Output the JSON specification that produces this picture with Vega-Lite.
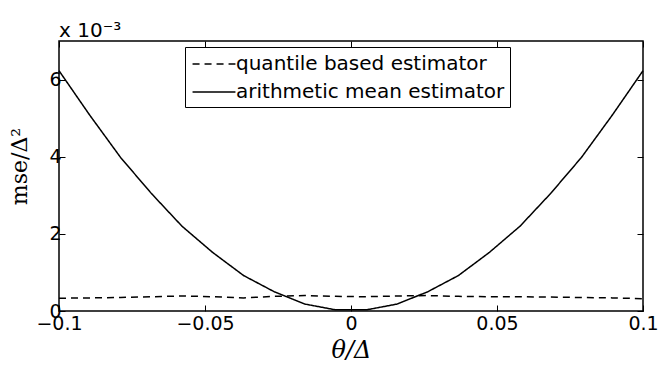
{
  "$schema": "https://vega.github.io/schema/vega-lite/v6.json",
  "width": 584,
  "height": 270,
  "autosize": {"type": "none"},
  "padding": {"left": 59, "top": 41, "right": 15, "bottom": 55},
  "background": "white",
  "config": {
    "view": {"stroke": "black", "strokeWidth": 1.5},
    "font": "DejaVu Sans",
    "axis": {
      "domain": false,
      "grid": false,
      "tickColor": "black",
      "tickWidth": 1,
      "tickSize": -6,
      "labelFlush": false,
      "labelFont": "DejaVu Sans",
      "labelFontSize": 19,
      "labelColor": "black",
      "titleColor": "black",
      "titleFont": "DejaVu Serif",
      "titleFontWeight": "normal"
    }
  },
  "title": {
    "text": "x 10⁻³",
    "anchor": "start",
    "frame": "group",
    "font": "DejaVu Sans",
    "fontSize": 20,
    "fontWeight": "normal",
    "color": "black",
    "baseline": "alphabetic",
    "offset": -16
  },
  "data": {
    "values": [
      {"x": -0.1, "y": 0.33, "s": "quantile based estimator"},
      {"x": -0.0895, "y": 0.34, "s": "quantile based estimator"},
      {"x": -0.0789, "y": 0.35, "s": "quantile based estimator"},
      {"x": -0.0684, "y": 0.37, "s": "quantile based estimator"},
      {"x": -0.0579, "y": 0.39, "s": "quantile based estimator"},
      {"x": -0.0474, "y": 0.37, "s": "quantile based estimator"},
      {"x": -0.0368, "y": 0.34, "s": "quantile based estimator"},
      {"x": -0.0263, "y": 0.38, "s": "quantile based estimator"},
      {"x": -0.0158, "y": 0.40, "s": "quantile based estimator"},
      {"x": -0.0053, "y": 0.38, "s": "quantile based estimator"},
      {"x": 0.0053, "y": 0.37, "s": "quantile based estimator"},
      {"x": 0.0158, "y": 0.39, "s": "quantile based estimator"},
      {"x": 0.0263, "y": 0.40, "s": "quantile based estimator"},
      {"x": 0.0368, "y": 0.38, "s": "quantile based estimator"},
      {"x": 0.0474, "y": 0.37, "s": "quantile based estimator"},
      {"x": 0.0579, "y": 0.37, "s": "quantile based estimator"},
      {"x": 0.0684, "y": 0.36, "s": "quantile based estimator"},
      {"x": 0.0789, "y": 0.35, "s": "quantile based estimator"},
      {"x": 0.0895, "y": 0.34, "s": "quantile based estimator"},
      {"x": 0.1, "y": 0.32, "s": "quantile based estimator"},
      {"x": -0.1, "y": 6.23, "s": "arithmetic mean estimator"},
      {"x": -0.0895, "y": 5.08, "s": "arithmetic mean estimator"},
      {"x": -0.0789, "y": 3.98, "s": "arithmetic mean estimator"},
      {"x": -0.0684, "y": 3.05, "s": "arithmetic mean estimator"},
      {"x": -0.0579, "y": 2.2, "s": "arithmetic mean estimator"},
      {"x": -0.0474, "y": 1.52, "s": "arithmetic mean estimator"},
      {"x": -0.0368, "y": 0.92, "s": "arithmetic mean estimator"},
      {"x": -0.0263, "y": 0.5, "s": "arithmetic mean estimator"},
      {"x": -0.0158, "y": 0.18, "s": "arithmetic mean estimator"},
      {"x": -0.0053, "y": 0.03, "s": "arithmetic mean estimator"},
      {"x": 0.0053, "y": 0.03, "s": "arithmetic mean estimator"},
      {"x": 0.0158, "y": 0.18, "s": "arithmetic mean estimator"},
      {"x": 0.0263, "y": 0.5, "s": "arithmetic mean estimator"},
      {"x": 0.0368, "y": 0.92, "s": "arithmetic mean estimator"},
      {"x": 0.0474, "y": 1.52, "s": "arithmetic mean estimator"},
      {"x": 0.0579, "y": 2.2, "s": "arithmetic mean estimator"},
      {"x": 0.0684, "y": 3.05, "s": "arithmetic mean estimator"},
      {"x": 0.0789, "y": 3.98, "s": "arithmetic mean estimator"},
      {"x": 0.0895, "y": 5.08, "s": "arithmetic mean estimator"},
      {"x": 0.1, "y": 6.23, "s": "arithmetic mean estimator"}
    ]
  },
  "layer": [
    {
      "mark": {"type": "line", "color": "black", "strokeWidth": 1.5},
      "encoding": {
        "x": {
          "field": "x", "type": "quantitative",
          "scale": {"domain": [-0.1, 0.1], "nice": false, "zero": false},
          "axis": {
            "orient": "bottom",
            "values": [-0.1, -0.05, 0, 0.05, 0.1],
            "format": "~g",
            "labelPadding": 9,
            "title": "θ/Δ",
            "titleFontSize": 24,
            "titleFontStyle": "italic",
            "titlePadding": 5
          }
        },
        "y": {
          "field": "y", "type": "quantitative",
          "scale": {"domain": [0, 7], "nice": false},
          "axis": {
            "orient": "left",
            "values": [0, 2, 4, 6],
            "labelPadding": 4,
            "title": "mse/Δ²",
            "titleFontSize": 22,
            "titleX": -28,
            "titleY": 125
          }
        },
        "strokeDash": {
          "field": "s", "type": "nominal",
          "scale": {
            "domain": ["quantile based estimator", "arithmetic mean estimator"],
            "range": [[7, 5], [1, 0]]
          },
          "legend": {
            "orient": "none",
            "legendX": 126,
            "legendY": 6,
            "title": null,
            "strokeColor": "black",
            "fillColor": "white",
            "padding": 5,
            "cornerRadius": 0,
            "labelFont": "DejaVu Sans",
            "labelFontSize": 20,
            "labelColor": "black",
            "labelLimit": 0,
            "symbolType": "M-1.95,0L1.95,0",
            "symbolSize": 484,
            "symbolStrokeWidth": 1.5,
            "symbolStrokeColor": "black",
            "symbolOffset": 12,
            "labelOffset": 10,
            "rowPadding": 6
          }
        }
      }
    },
    {
      "mark": {"type": "line", "opacity": 0},
      "encoding": {
        "x": {
          "field": "x", "type": "quantitative",
          "scale": {"domain": [-0.1, 0.1], "nice": false, "zero": false},
          "axis": {"orient": "top", "values": [-0.1, -0.05, 0, 0.05, 0.1], "labels": false, "title": null}
        },
        "y": {
          "field": "y", "type": "quantitative",
          "scale": {"domain": [0, 7], "nice": false},
          "axis": {"orient": "right", "values": [0, 2, 4, 6], "labels": false, "title": null}
        },
        "detail": {"field": "s", "type": "nominal"}
      }
    }
  ],
  "resolve": {"axis": {"x": "independent", "y": "independent"}}
}
